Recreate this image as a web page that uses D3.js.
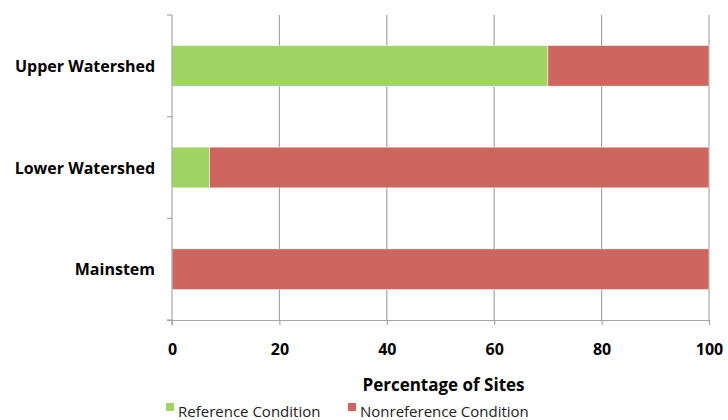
<!DOCTYPE html>
<html>
<head>
<meta charset="utf-8">
<script src="https://cdn.jsdelivr.net/npm/d3@7"></script>
<style>
  body { margin: 0; background: #fff; }
  text { font-family: "Open Sans", "Liberation Sans", sans-serif; }
</style>
</head>
<body>
<svg id="chart" width="728" height="420"></svg>
<script>
// Site condition by reach, percent of sites
const categories = ["Upper Watershed", "Lower Watershed", "Mainstem"];
const referenceValues = [70, 7, 0];
const nonreferenceValues = [30, 93, 100];
const seriesNames = ["Reference Condition", "Nonreference Condition"];
const xTicks = [0, 20, 40, 60, 80, 100];

const colors = ["#a0d563", "#cc665f"];
const svg = d3.select("#chart");
const margin = { left: 172, right: 19, top: 15, bottom: 100 };
const W = 728, H = 420;

const x = d3.scaleLinear().domain([0, 100]).range([margin.left, W - margin.right]);
const y = d3.scaleBand().domain(categories).range([margin.top, H - margin.bottom]).paddingInner(0.6).paddingOuter(0.3);

// vertical gridlines
svg.append("g").selectAll("line").data(xTicks.slice(1)).join("line")
  .attr("x1", d => x(d)).attr("x2", d => x(d))
  .attr("y1", margin.top).attr("y2", H - margin.bottom)
  .attr("stroke", "#a6a6a6").attr("stroke-width", 1.2);

// stacked bars
const rows = categories.map((c, i) => ({ cat: c, ref: referenceValues[i], non: nonreferenceValues[i] }));
const stack = d3.stack().keys(["ref", "non"])(rows);
svg.append("g").selectAll("g").data(stack).join("g")
  .attr("fill", (d, i) => colors[i])
  .selectAll("rect").data(d => d.filter(p => p[1] > p[0])).join("rect")
  .attr("x", d => x(d[0]))
  .attr("width", d => x(d[1]) - x(d[0]))
  .attr("y", d => y(d.data.cat))
  .attr("height", y.bandwidth())
  .attr("stroke", "rgba(255,255,255,0.6)").attr("stroke-width", 0.8);

// x axis
const xAxis = svg.append("g").attr("transform", `translate(0,${H - margin.bottom})`)
  .call(d3.axisBottom(x).tickValues(xTicks).tickSize(5).tickPadding(19));
xAxis.select(".domain").attr("stroke", "#a6a6a6").attr("stroke-width", 1.2)
  .attr("d", `M${x(0) - 5},0.5H${x(100)}`);
xAxis.selectAll(".tick line").attr("stroke", "#a6a6a6").attr("stroke-width", 1.2).attr("y2", 5);
xAxis.selectAll(".tick text").attr("font-size", 16).attr("font-weight", "bold").attr("fill", "#000");

// y axis with ticks at category boundaries
const yG = svg.append("g");
yG.append("line").attr("x1", x(0)).attr("x2", x(0)).attr("y1", margin.top).attr("y2", H - margin.bottom + 5)
  .attr("stroke", "#a6a6a6").attr("stroke-width", 1.2);
const bandEdges = d3.range(categories.length + 1).map(i => margin.top + i * (H - margin.bottom - margin.top) / categories.length);
yG.selectAll("line.t").data(bandEdges).join("line").attr("class", "t")
  .attr("x1", x(0) - 5).attr("x2", x(0)).attr("y1", d => d).attr("y2", d => d)
  .attr("stroke", "#a6a6a6").attr("stroke-width", 1.2);
yG.selectAll("text").data(categories).join("text")
  .attr("x", x(0) - 17).attr("y", d => y(d) + y.bandwidth() / 2)
  .attr("text-anchor", "end").attr("dominant-baseline", "central")
  .attr("font-size", 16).attr("font-weight", "bold").attr("fill", "#000")
  .text(d => d);

// axis title
svg.append("text").attr("x", (x(0) + x(100)) / 2 + 3).attr("y", 391)
  .attr("text-anchor", "middle").attr("font-size", 17).attr("font-weight", "bold")
  .text("Percentage of Sites");

// legend
const legendX = [166, 348];
const lg = svg.append("g").selectAll("g").data(seriesNames).join("g")
  .attr("transform", (d, i) => `translate(${legendX[i]},0)`);
lg.append("rect").attr("x", 0).attr("y", 403).attr("width", 8).attr("height", 8)
  .attr("fill", (d, i) => colors[i]);
lg.append("text").attr("x", 12).attr("y", 417).attr("font-size", 15).attr("fill", "#222").text(d => d);
</script>
</body>
</html>
